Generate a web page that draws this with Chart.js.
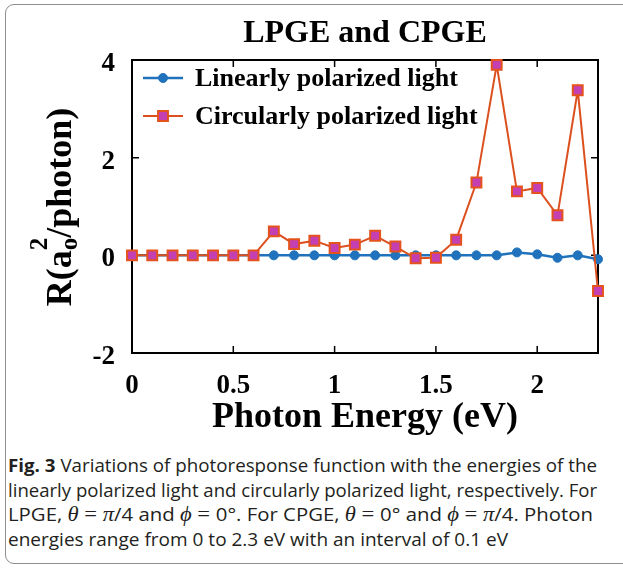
<!DOCTYPE html>
<html>
<head>
<meta charset="utf-8">
<script src="https://cdn.jsdelivr.net/npm/chart.js@4.4.1/dist/chart.umd.min.js"></script>
<style>
  body { margin: 0; background: #fff; }
  #wrap { position: relative; width: 623px; height: 570px; overflow: hidden; }
  #frame { position: absolute; left: 5px; top: 4px; width: 660px; height: 560px; border: 1.5px solid #8e8e8e; border-radius: 9px; box-sizing: border-box; }
  #chart { position: absolute; left: 0; top: 0; }
  .cap { position: absolute; left: 8px; white-space: nowrap; font-family: "Open Sans", sans-serif; font-size: 18px; line-height: 1; color: #231f20; transform-origin: 0 0; }
  .cap b { font-weight: 700; }
  .m { font-family: "Liberation Serif", serif; font-style: italic; font-size: 20px; line-height: 0; }
  .eq { font-family: "Liberation Serif", serif; font-size: 20px; line-height: 0; }
</style>
</head>
<body>
<div id="wrap">
  <div id="frame"></div>
  <canvas id="chart" width="623" height="440"></canvas>
  <div class="cap" style="top:456px" data-end="597"><b>Fig. 3</b> Variations of photoresponse function with the energies of the</div>
  <div class="cap" style="top:481px" data-end="597">linearly polarized light and circularly polarized light, respectively. For</div>
  <div class="cap" style="top:505px" data-end="593">LPGE, <span class="m">θ</span><span class="eq"> = </span><span class="m">π</span>/4 and <span class="m">ϕ</span><span class="eq"> = </span>0°. For CPGE, <span class="m">θ</span><span class="eq"> = </span>0° and <span class="m">ϕ</span><span class="eq"> = </span><span class="m">π</span>/4. Photon</div>
  <div class="cap" style="top:530px" data-end="508">energies range from 0 to 2.3 eV with an interval of 0.1 eV</div>
</div>
<script>
// photon energies (eV) and photoresponse R (a0^2/photon)
const energies = [0, 0.1, 0.2, 0.3, 0.4, 0.5, 0.6, 0.7, 0.8, 0.9, 1.0, 1.1,
                  1.2, 1.3, 1.4, 1.5, 1.6, 1.7, 1.8, 1.9, 2.0, 2.1, 2.2, 2.3];
const linearValues = [0, 0, 0, 0, 0, 0, 0, 0, 0, 0, 0, 0,
                      0, 0, 0, 0, 0, 0, 0, 0.06, 0.02, -0.05, 0, -0.08];
const circularValues = [0, 0, 0, 0, 0, 0, 0, 0.49, 0.23, 0.3, 0.15, 0.22,
                        0.4, 0.18, -0.06, -0.05, 0.32, 1.49, 3.9, 1.31, 1.38, 0.82, 3.38, -0.73];
const seriesNames = ["Linearly polarized light", "Circularly polarized light"];
const xTicks = [0, 0.5, 1, 1.5, 2];
const yTicks = [-2, 0, 2, 4];
const chartTitle = "LPGE and CPGE";
const xTitle = "Photon Energy (eV)";
const yTitleParts = ["R(a", "2", "o", "/photon)"];

const serif = "'Liberation Serif', 'Times New Roman', serif";

function pts(vals) {
    return energies.map((e, i) => ({ x: e, y: vals[i] }));
}

// closed axes box with inward ticks, MATLAB style
const axesBox = {
    id: "axesBox",
    beforeDatasetsDraw(chart) {
        const { ctx, chartArea: a, scales: { x, y } } = chart;
        ctx.save();
        ctx.strokeStyle = "#000";
        ctx.lineWidth = 2;
        ctx.strokeRect(a.left, a.top, a.right - a.left, a.bottom - a.top);
        ctx.lineWidth = 1.5;
        ctx.beginPath();
        x.ticks.forEach(t => {
            const px = x.getPixelForValue(t.value);
            ctx.moveTo(px, a.bottom); ctx.lineTo(px, a.bottom - 7);
            ctx.moveTo(px, a.top); ctx.lineTo(px, a.top + 7);
        });
        y.ticks.forEach(t => {
            const py = y.getPixelForValue(t.value);
            ctx.moveTo(a.left, py); ctx.lineTo(a.left + 7, py);
            ctx.moveTo(a.right, py); ctx.lineTo(a.right - 7, py);
        });
        ctx.stroke();
        ctx.restore();
    }
};

// legend with line + marker sample
const lineLegend = {
    id: "lineLegend",
    afterDatasetsDraw(chart) {
        const ctx = chart.ctx;
        const top = chart.chartArea.top;
        chart.data.datasets.forEach((ds, i) => {
            const yy = top + 18 + i * 38;
            ctx.save();
            ctx.strokeStyle = ds.borderColor;
            ctx.lineWidth = ds.borderWidth;
            ctx.beginPath();
            ctx.moveTo(143, yy);
            ctx.lineTo(183, yy);
            ctx.stroke();
            ctx.fillStyle = ds.pointBackgroundColor;
            ctx.strokeStyle = ds.pointBorderColor;
            ctx.lineWidth = ds.pointBorderWidth;
            Chart.helpers.drawPoint(ctx, { pointStyle: ds.pointStyle, radius: ds.pointRadius, borderWidth: ds.pointBorderWidth }, 163, yy);
            ctx.fillStyle = "#000";
            ctx.font = "bold 26px " + serif;
            ctx.textBaseline = "middle";
            ctx.fillText(ds.label, 195, yy + 1);
            ctx.restore();
        });
    }
};

// rotated y title with stacked super/subscript
const yTitle = {
    id: "yTitle",
    afterDraw(chart) {
        const ctx = chart.ctx;
        const big = "bold 36px " + serif, small = "bold 25px " + serif;
        ctx.save();
        ctx.font = big;
        const w1 = ctx.measureText(yTitleParts[0]).width;
        const w3 = ctx.measureText(yTitleParts[3]).width;
        ctx.font = small;
        const w2 = Math.max(ctx.measureText(yTitleParts[1]).width, ctx.measureText(yTitleParts[2]).width);
        const total = w1 + w2 + w3;
        ctx.translate(71, 207);
        ctx.rotate(-Math.PI / 2);
        ctx.fillStyle = "#000";
        ctx.textBaseline = "alphabetic";
        let cx = -total / 2;
        ctx.font = big;
        ctx.fillText(yTitleParts[0], cx, 0);
        cx += w1;
        ctx.font = small;
        ctx.fillText(yTitleParts[1], cx, -24);
        ctx.fillText(yTitleParts[2], cx, 6);
        cx += w2;
        ctx.font = big;
        ctx.fillText(yTitleParts[3], cx, 0);
        ctx.restore();
    }
};

new Chart(document.getElementById("chart"), {
    type: "line",
    data: {
        datasets: [
            {
                label: seriesNames[0],
                data: pts(linearValues),
                borderColor: "#1f72bb",
                borderWidth: 2.5,
                pointStyle: "circle",
                pointRadius: 4.5,
                pointBackgroundColor: "#1f72bb",
                pointBorderColor: "#1f72bb",
                pointBorderWidth: 1,
                clip: false,
                order: 1
            },
            {
                label: seriesNames[1],
                data: pts(circularValues),
                borderColor: "#dc5020",
                borderWidth: 2,
                pointStyle: "rect",
                pointRadius: 7,
                pointBackgroundColor: "#c43fb2",
                pointBorderColor: "#e5531c",
                pointBorderWidth: 2,
                clip: false,
                order: 0
            }
        ]
    },
    options: {
        responsive: false,
        animation: false,
        events: [],
        layout: { padding: { left: 0, right: 25, top: 0, bottom: 0 } },
        plugins: {
            legend: { display: false },
            tooltip: { enabled: false },
            title: {
                display: true,
                fullSize: false,
                text: chartTitle,
                color: "#000",
                font: { family: serif, size: 32, weight: "bold" },
                padding: { top: 15, bottom: 6.6 }
            }
        },
        scales: {
            x: {
                type: "linear",
                min: 0,
                max: 2.3,
                afterBuildTicks: s => { s.ticks = xTicks.map(v => ({ value: v })); },
                afterFit: s => { s.height = 87; },
                grid: { display: false },
                border: { display: false },
                ticks: {
                    color: "#000",
                    font: { family: serif, size: 27, weight: "bold" },
                    padding: 9,
                    maxRotation: 0,
                    autoSkip: false,
                    callback: v => String(v)
                },
                title: {
                    display: true,
                    text: xTitle,
                    color: "#000",
                    font: { family: serif, size: 36, weight: "bold" },
                    padding: { top: 0, bottom: 1 }
                }
            },
            y: {
                min: -2,
                max: 4,
                afterBuildTicks: s => { s.ticks = yTicks.map(v => ({ value: v })); },
                afterFit: s => { s.width = 132; },
                grid: { display: false },
                border: { display: false },
                ticks: {
                    color: "#000",
                    font: { family: serif, size: 27, weight: "bold" },
                    padding: 9,
                    labelOffset: 4,
                    callback: v => String(v)
                }
            }
        }
    },
    plugins: [axesBox, lineLegend, yTitle]
});

// squeeze caption lines to the reference line lengths
document.fonts.ready.then(() => {
    document.querySelectorAll(".cap").forEach(el => {
        const w = el.getBoundingClientRect().width;
        const target = Number(el.dataset.end) - 8;
        el.style.transform = "scaleX(" + (target / w) + ")";
    });
});
</script>
</body>
</html>
